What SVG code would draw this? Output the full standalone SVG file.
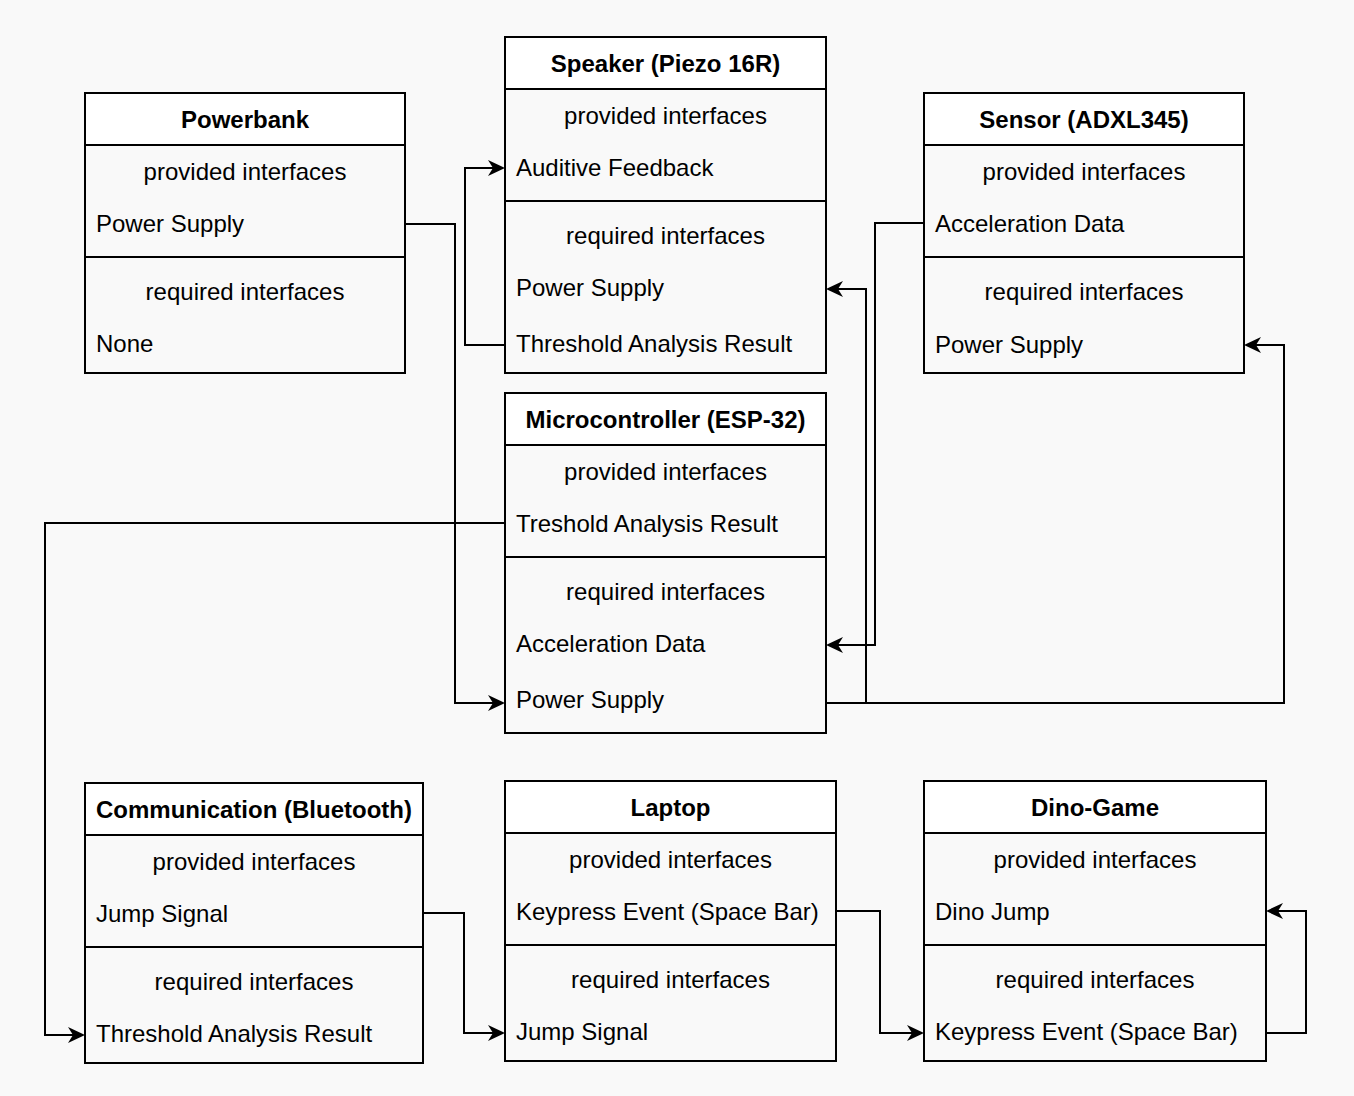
<svg xmlns="http://www.w3.org/2000/svg" width="1354" height="1096" viewBox="0 0 1354 1096">
<style>
.bg{fill:#f9f9f9}
.box{fill:none;stroke:#000;stroke-width:2}
.hdr{fill:#fff;stroke:#000;stroke-width:2}
.ln{stroke:#000;stroke-width:2}
text{font-family:"Liberation Sans",Arial,sans-serif;font-size:24px;fill:#000}
.t{font-weight:bold;text-anchor:middle}
.c{text-anchor:middle}
.con{fill:none;stroke:#000;stroke-width:2}
</style>
<defs>
<marker id="arr" markerUnits="userSpaceOnUse" markerWidth="20" markerHeight="18" viewBox="0 0 20 18" refX="11" refY="8.5" orient="auto">
<path d="M0,0.5 L17,8.5 L0,16.5 L5,8.5 Z" fill="#000"/>
</marker>
</defs>
<rect class="bg" x="0" y="0" width="1354" height="1096"/>

<g id="powerbank">
<rect class="box" x="85" y="93" width="320" height="280"/>
<rect class="hdr" x="85" y="93" width="320" height="52"/>
<line class="ln" x1="85" y1="257" x2="405" y2="257"/>
<text class="t" x="245" y="128">Powerbank</text>
<text class="c" x="245" y="180">provided interfaces</text>
<text x="96" y="232">Power Supply</text>
<text class="c" x="245" y="300">required interfaces</text>
<text x="96" y="352">None</text>
</g>

<g id="speaker">
<rect class="box" x="505" y="37" width="321" height="336"/>
<rect class="hdr" x="505" y="37" width="321" height="52"/>
<line class="ln" x1="505" y1="201" x2="826" y2="201"/>
<text class="t" x="665.5" y="72">Speaker (Piezo 16R)</text>
<text class="c" x="665.5" y="124">provided interfaces</text>
<text x="516" y="176">Auditive Feedback</text>
<text class="c" x="665.5" y="244">required interfaces</text>
<text x="516" y="296">Power Supply</text>
<text x="516" y="352">Threshold Analysis Result</text>
</g>

<g id="sensor">
<rect class="box" x="924" y="93" width="320" height="280"/>
<rect class="hdr" x="924" y="93" width="320" height="52"/>
<line class="ln" x1="924" y1="257" x2="1244" y2="257"/>
<text class="t" x="1084" y="128">Sensor (ADXL345)</text>
<text class="c" x="1084" y="180">provided interfaces</text>
<text x="935" y="232">Acceleration Data</text>
<text class="c" x="1084" y="300">required interfaces</text>
<text x="935" y="353">Power Supply</text>
</g>

<g id="microcontroller">
<rect class="box" x="505" y="393" width="321" height="340"/>
<rect class="hdr" x="505" y="393" width="321" height="52"/>
<line class="ln" x1="505" y1="557" x2="826" y2="557"/>
<text class="t" x="665.5" y="428">Microcontroller (ESP-32)</text>
<text class="c" x="665.5" y="480">provided interfaces</text>
<text x="516" y="532">Treshold Analysis Result</text>
<text class="c" x="665.5" y="600">required interfaces</text>
<text x="516" y="652">Acceleration Data</text>
<text x="516" y="708">Power Supply</text>
</g>

<g id="communication">
<rect class="box" x="85" y="783" width="338" height="280"/>
<rect class="hdr" x="85" y="783" width="338" height="52"/>
<line class="ln" x1="85" y1="947" x2="423" y2="947"/>
<text class="t" x="254" y="818">Communication (Bluetooth)</text>
<text class="c" x="254" y="870">provided interfaces</text>
<text x="96" y="922">Jump Signal</text>
<text class="c" x="254" y="990">required interfaces</text>
<text x="96" y="1042">Threshold Analysis Result</text>
</g>

<g id="laptop">
<rect class="box" x="505" y="781" width="331" height="280"/>
<rect class="hdr" x="505" y="781" width="331" height="52"/>
<line class="ln" x1="505" y1="945" x2="836" y2="945"/>
<text class="t" x="670.5" y="816">Laptop</text>
<text class="c" x="670.5" y="868">provided interfaces</text>
<text x="516" y="920">Keypress Event (Space Bar)</text>
<text class="c" x="670.5" y="988">required interfaces</text>
<text x="516" y="1040">Jump Signal</text>
</g>

<g id="dino-game">
<rect class="box" x="924" y="781" width="342" height="280"/>
<rect class="hdr" x="924" y="781" width="342" height="52"/>
<line class="ln" x1="924" y1="945" x2="1266" y2="945"/>
<text class="t" x="1095" y="816">Dino-Game</text>
<text class="c" x="1095" y="868">provided interfaces</text>
<text x="935" y="920">Dino Jump</text>
<text class="c" x="1095" y="988">required interfaces</text>
<text x="935" y="1040">Keypress Event (Space Bar)</text>
</g>

<g id="connectors">
<path class="con" marker-end="url(#arr)" d="M405,224 H455 V703 H499"/>
<path class="con" marker-end="url(#arr)" d="M505,345 H465 V168 H499"/>
<path class="con" marker-end="url(#arr)" d="M924,223 H875 V645 H832"/>
<path class="con" marker-end="url(#arr)" d="M826,703 H866 V289 H832"/>
<path class="con" marker-end="url(#arr)" d="M826,703 H1284 V345 H1250"/>
<path class="con" marker-end="url(#arr)" d="M505,523 H45 V1035 H79"/>
<path class="con" marker-end="url(#arr)" d="M423,913 H464 V1033 H499"/>
<path class="con" marker-end="url(#arr)" d="M836,911 H880 V1033 H918"/>
<path class="con" marker-end="url(#arr)" d="M1266,1033 H1306 V911 H1272"/>
</g>
</svg>
